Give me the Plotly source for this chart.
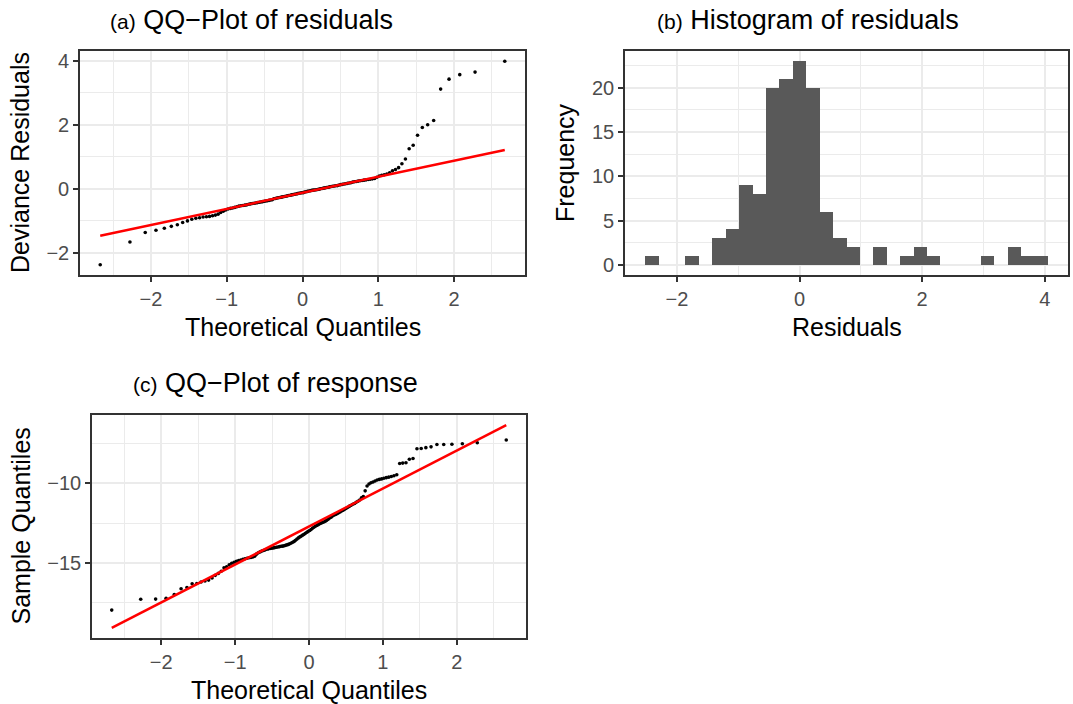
import numpy as np
import plotly.graph_objects as go
from statistics import NormalDist

# ---------------- data ----------------
# deviance residuals (sorted), n = 132
residuals = [
    -2.37, -1.66, -1.36, -1.29, -1.23, -1.17, -1.12, -1.05, -1.00,
    -0.95, -0.92, -0.90, -0.88, -0.87, -0.86, -0.84, -0.82, -0.79,
    -0.74, -0.70, -0.66, -0.63, -0.61, -0.60, -0.58, -0.56,
    -0.54, -0.53, -0.52, -0.51, -0.50, -0.48, -0.47, -0.46, -0.45, -0.44,
    -0.43, -0.42, -0.41, -0.40, -0.39, -0.38, -0.37, -0.36, -0.35, -0.34,
    -0.31, -0.30, -0.29, -0.28, -0.27, -0.26, -0.25, -0.24, -0.23, -0.22,
    -0.21, -0.20, -0.19, -0.18, -0.17, -0.16, -0.15, -0.14, -0.13, -0.125, -0.12,
    -0.10, -0.09, -0.08, -0.07, -0.06, -0.05, -0.04, -0.035, -0.03, -0.02,
    -0.01, 0.00, 0.01, 0.02, 0.03, 0.04, 0.05, 0.06, 0.07, 0.08, 0.09, 0.095, 0.10,
    0.12, 0.13, 0.14, 0.15, 0.16, 0.17, 0.18, 0.19, 0.21, 0.22,
    0.23, 0.24, 0.25, 0.26, 0.27, 0.28, 0.29, 0.30, 0.31, 0.32,
    0.36, 0.40, 0.42, 0.44, 0.46, 0.50,
    0.56, 0.60, 0.66,
    0.78, 0.93,
    1.25, 1.36,
    1.67,
    1.91, 2.00,
    2.13,
    3.11,
    3.42, 3.56,
    3.64,
    3.98,
]

# response values (sorted), n = 132
response = [
    -17.96, -17.28, -17.27, -17.22, -16.99, -16.62, -16.55, -16.31, -16.29, -16.20,
    -16.14, -16.08, -15.95, -15.78, -15.66, -15.52, -15.31, -15.24, -15.12, -15.02,
    -14.96, -14.90, -14.86, -14.82, -14.77, -14.74, -14.71, -14.68, -14.66, -14.63,
    -14.58, -14.45, -14.36, -14.31, -14.26, -14.22, -14.18, -14.14, -14.12, -14.10,
    -14.08, -14.06, -14.04, -14.02, -14.00, -13.98, -13.96, -13.95, -13.93, -13.90,
    -13.87, -13.84, -13.80, -13.75, -13.70, -13.65, -13.58, -13.50, -13.43, -13.37,
    -13.32, -13.26, -13.20, -13.14, -13.08, -13.02, -12.97, -12.90, -12.83, -12.76,
    -12.70, -12.65, -12.60, -12.55, -12.51, -12.47, -12.43, -12.38, -12.33, -12.26,
    -12.19, -12.13, -12.06, -12.00, -11.96, -11.91, -11.86, -11.80, -11.74, -11.69,
    -11.63, -11.57, -11.51, -11.44, -11.38, -11.32, -11.27, -11.20, -11.13, -11.05,
    -10.92, -10.84, -10.48, -10.18, -10.05, -9.97, -9.92, -9.86, -9.80, -9.76,
    -9.73, -9.69, -9.65, -9.62, -9.58, -9.53, -9.47, -8.76, -8.74, -8.72,
    -8.50, -8.45, -7.84, -7.82, -7.77, -7.72, -7.57, -7.57, -7.56, -7.52,
    -7.46, -7.29,
]

N_BINS = 30
x_ticks_qq = [-2, -1, 0, 1, 2]

# ---------------- helpers (stat transforms) ----------------
ND = NormalDist()


def qq(sample):
    s = np.sort(np.asarray(sample, float))
    n = len(s)
    a = 0.375 if n <= 10 else 0.5
    p = (np.arange(1, n + 1) - a) / (n + 1 - 2 * a)
    theo = np.array([ND.inv_cdf(v) for v in p])
    return theo, s


def qqline(sample, theo):
    q1, q3 = np.quantile(sample, [0.25, 0.75])
    z1, z3 = ND.inv_cdf(0.25), ND.inv_cdf(0.75)
    slope = (q3 - q1) / (z3 - z1)
    inter = q1 - slope * z1
    xs = np.array([theo.min(), theo.max()])
    return xs, inter + slope * xs


def expand(lo, hi, f=0.05):
    d = (hi - lo) * f
    return [lo - d, hi + d]


th_a, s_a = qq(residuals)
lx_a, ly_a = qqline(residuals, th_a)
th_c, s_c = qq(response)
lx_c, ly_c = qqline(response, th_c)

# histogram bins (ggplot bins=30 rule)
lo, hi = min(residuals), max(residuals)
bw = (hi - lo) / (N_BINS - 1)
origin = bw / 2 + np.floor((lo - bw / 2) / bw) * bw
edges = origin + bw * np.arange(N_BINS + 1)
counts, _ = np.histogram(residuals, bins=edges)

# ---------------- figure ----------------
W, H = 1073, 704
FONT = "Liberation Sans, Arial, Helvetica, sans-serif"
TICK_FS = 20
AXTITLE_FS = 25
TITLE_FS = 27
TAG_FS = 21


def px_x(v):
    return v / W


def px_y(v):
    return 1 - v / H


fig = go.Figure()

fig.add_trace(go.Scatter(x=th_a, y=s_a, mode="markers", xaxis="x", yaxis="y",
                         marker=dict(color="black", size=3.6), showlegend=False))
fig.add_trace(go.Scatter(x=lx_a, y=ly_a, mode="lines", xaxis="x", yaxis="y",
                         line=dict(color="#FF0000", width=2.5), showlegend=False))

fig.add_trace(go.Histogram(x=residuals, xaxis="x2", yaxis="y2",
                           xbins=dict(start=float(edges[0]), end=float(edges[-1]), size=float(bw)),
                           marker=dict(color="#595959", line=dict(width=0)),
                           showlegend=False))

fig.add_trace(go.Scatter(x=th_c, y=s_c, mode="markers", xaxis="x3", yaxis="y3",
                         marker=dict(color="black", size=3.6), showlegend=False))
fig.add_trace(go.Scatter(x=lx_c, y=ly_c, mode="lines", xaxis="x3", yaxis="y3",
                         line=dict(color="#FF0000", width=2.5), showlegend=False))

axis_common = dict(
    showline=True, mirror=True, linecolor="#333333", linewidth=1.6,
    ticks="outside", ticklen=5, tickwidth=1.6, tickcolor="#333333",
    showgrid=True, gridcolor="#EBEBEB", gridwidth=1.6, zeroline=False,
    tickfont=dict(family=FONT, size=TICK_FS, color="#4D4D4D"),
    automargin=False, fixedrange=True,
)


def ax(**kw):
    d = dict(axis_common)
    d.update(kw)
    return d


def minor(dt, t0):
    return dict(showgrid=True, gridcolor="#EBEBEB", gridwidth=0.8, dtick=dt, tick0=t0)


top_dom = [px_y(275), px_y(51)]
bot_dom = [px_y(638), px_y(415)]

fig.update_layout(
    width=W, height=H, margin=dict(l=0, r=0, t=0, b=0),
    paper_bgcolor="white", plot_bgcolor="white",
    bargap=0, showlegend=False,
    font=dict(family=FONT, color="black"),
    xaxis=ax(domain=[px_x(80), px_x(525)], anchor="y", range=expand(th_a.min(), th_a.max()),
             tickvals=x_ticks_qq, minor=minor(0.5, 0.5)),
    yaxis=ax(domain=top_dom, anchor="x",
             range=expand(min(s_a.min(), ly_a.min()), max(s_a.max(), ly_a.max())),
             dtick=2, tick0=0, minor=minor(1, 1)),
    xaxis2=ax(domain=[px_x(625), px_x(1068)], anchor="y2",
              range=expand(edges[0], edges[-1]), dtick=2, tick0=0, minor=minor(1, 1)),
    yaxis2=ax(domain=top_dom, anchor="x2",
              range=expand(0, counts.max()), dtick=5, tick0=0, minor=minor(2.5, 2.5)),
    xaxis3=ax(domain=[px_x(92), px_x(526)], anchor="y3", range=expand(th_c.min(), th_c.max()),
              tickvals=x_ticks_qq, minor=minor(0.5, 0.5)),
    yaxis3=ax(domain=bot_dom, anchor="x3",
              range=expand(min(s_c.min(), ly_c.min()), max(s_c.max(), ly_c.max())),
              dtick=5, tick0=0, minor=minor(2.5, 2.5)),
)

# thin baseline drawn by zero-height bins
fig.add_shape(type="line", xref="x2", yref="y2", x0=float(edges[0]), x1=float(edges[-1]),
              y0=0, y1=0, line=dict(color="#B0B0B0", width=1), layer="below")


def ann(text, x, y, size=AXTITLE_FS, xanchor="center", angle=0):
    fig.add_annotation(text=text, x=px_x(x), y=px_y(y), xref="paper", yref="paper",
                       xanchor=xanchor, yanchor="middle", showarrow=False, textangle=angle,
                       font=dict(family=FONT, size=size, color="black"))


tag = "<span style='font-size:%dpx'>{}</span> " % TAG_FS
ann(tag.format("(a)") + "QQ\u2212Plot of residuals", 108, 20, size=TITLE_FS, xanchor="left")
ann(tag.format("(b)") + "Histogram of residuals", 655, 20, size=TITLE_FS, xanchor="left")
ann(tag.format("(c)") + "QQ\u2212Plot of response", 131, 383, size=TITLE_FS, xanchor="left")

ann("Theoretical Quantiles", 303, 327)
ann("Residuals", 846.5, 327)
ann("Theoretical Quantiles", 309, 690)
ann("Deviance Residuals", 20, 163, angle=-90)
ann("Frequency", 565, 163, angle=-90)
ann("Sample Quantiles", 20, 526.5, angle=-90)

fig.write_html("out.html")
